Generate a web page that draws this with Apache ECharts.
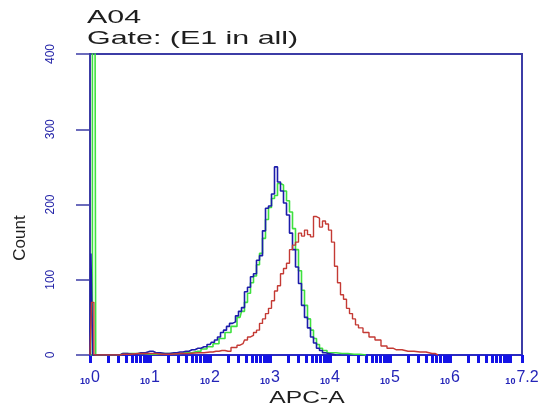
<!DOCTYPE html>
<html>
<head>
<meta charset="utf-8">
<script src="https://cdn.jsdelivr.net/npm/echarts@6/dist/echarts.min.js"></script>
<style>
  html, body { margin: 0; padding: 0; background: #fff; }
  #chart { width: 546px; height: 413px; }
</style>
</head>
<body>
<div id="chart"></div>
<script>
// x values are decades (log10 of APC-A), y values are counts
var blueExp = [0, 0.03, 0.06, 0.5, 0.55, 0.7, 0.85, 1.0, 1.1, 1.25, 1.4, 1.5, 1.6, 1.7, 1.8, 1.9, 2.0, 2.05, 2.1, 2.15, 2.2, 2.25, 2.3, 2.35, 2.4, 2.45, 2.5, 2.55, 2.6, 2.65, 2.7, 2.75, 2.8, 2.85, 2.9, 2.95, 3.0, 3.05, 3.1, 3.15, 3.2, 3.25, 3.3, 3.35, 3.4, 3.45, 3.5, 3.55, 3.6, 3.65, 3.7, 3.75, 3.8, 3.85, 3.9, 3.95, 4.0, 4.1];
var blueCount = [0, 135, 0, 0, 2, 1, 3, 5, 3, 2, 3, 4, 5, 7, 9, 11, 14, 17, 20, 24, 30, 33, 38, 42, 44, 52, 58, 63, 84, 90, 104, 108, 126, 132, 165, 195, 198, 214, 250, 230, 218, 202, 186, 162, 140, 117, 95, 66, 50, 36, 24, 16, 9, 6, 3, 2, 1, 0];

var greenExp = [0, 0.08, 0.11, 0.5, 0.55, 0.8, 1.0, 1.2, 1.4, 1.6, 1.8, 1.9, 2.0, 2.1, 2.2, 2.3, 2.4, 2.5, 2.55, 2.6, 2.65, 2.7, 2.75, 2.8, 2.85, 2.9, 2.95, 3.0, 3.05, 3.1, 3.15, 3.2, 3.25, 3.3, 3.35, 3.4, 3.45, 3.5, 3.55, 3.6, 3.65, 3.7, 3.75, 3.8, 3.85, 3.9, 4.0, 4.2, 4.4, 4.6];
var greenCount = [0, 600, 0, 0, 2, 2, 1, 2, 2, 3, 5, 8, 11, 15, 22, 30, 38, 50, 58, 70, 82, 96, 105, 120, 135, 155, 180, 196, 208, 212, 228, 226, 218, 205, 190, 168, 140, 112, 86, 66, 48, 33, 22, 14, 9, 6, 3, 2, 1, 0];

var redExp = [0, 0.05, 0.08, 0.5, 0.55, 0.8, 1.0, 1.2, 1.5, 1.8, 2.0, 2.1, 2.2, 2.3, 2.4, 2.5, 2.55, 2.6, 2.65, 2.7, 2.75, 2.8, 2.85, 2.9, 2.95, 3.0, 3.05, 3.1, 3.15, 3.2, 3.25, 3.3, 3.35, 3.4, 3.45, 3.5, 3.55, 3.6, 3.65, 3.7, 3.75, 3.8, 3.85, 3.9, 3.95, 4.0, 4.05, 4.1, 4.15, 4.2, 4.25, 4.3, 4.35, 4.4, 4.45, 4.5, 4.6, 4.7, 4.8, 4.9, 5.0, 5.1, 5.3, 5.5, 5.7, 5.8];
var redCount = [0, 70, 0, 0, 1, 2, 2, 1, 2, 3, 4, 5, 6, 5, 10, 13, 15, 20, 24, 26, 30, 33, 42, 48, 55, 62, 72, 85, 92, 108, 115, 122, 140, 146, 150, 162, 158, 166, 160, 157, 184, 182, 170, 178, 174, 166, 150, 118, 96, 80, 74, 62, 55, 48, 40, 36, 30, 24, 20, 12, 9, 7, 5, 4, 2, 0];

var decadeLabels = [0, 1, 2, 3, 4, 5, 6, 7.2];
var countTicks = [0, 100, 200, 300, 400];

// minor ticks at 2..9 inside every decade
var minorTicks = [];
for (var d = 0; d < 7.2; d++) {
    minorTicks.push(d);
    for (var k = 2; k <= 9; k++) {
        minorTicks.push(d + Math.log10(k));
    }
}
minorTicks.push(7.2);

function pairs(xs, ys) {
    var out = [];
    for (var i = 0; i < xs.length; i++) {
        out.push([xs[i], ys[i]]);
    }
    return out;
}

var myChart = echarts.init(document.getElementById('chart'));

var textFont = 'Liberation Sans';

var option = {
    backgroundColor: '#ffffff',
    animation: false,
    // the source picture is stretched sideways, so the flat texts are widened with scaleX
    graphic: [
        {
            type: 'text', x: 87, y: 18, scaleX: 1.6,
            style: { text: 'A04', font: '19px "Liberation Sans"', fill: '#1e1e1e', align: 'left', verticalAlign: 'middle' }
        },
        {
            type: 'text', x: 87, y: 39, scaleX: 1.6,
            style: { text: 'Gate: (E1 in all)', font: '19px "Liberation Sans"', fill: '#1e1e1e', align: 'left', verticalAlign: 'middle' }
        },
        {
            type: 'text', x: 307, y: 398, scaleX: 1.45,
            style: { text: 'APC-A', font: '17px "Liberation Sans"', fill: '#1e1e1e', align: 'center', verticalAlign: 'middle' }
        },
        {
            type: 'text', x: 20, y: 238, rotation: Math.PI / 2,
            style: { text: 'Count', font: '17px "Liberation Sans"', fill: '#1e1e1e', align: 'center', verticalAlign: 'middle' }
        }
    ],
    grid: {
        left: 90,
        top: 54,
        right: 24,
        bottom: 58,
        show: true,
        borderColor: '#3c3ca6',
        borderWidth: 2,
        backgroundColor: '#ffffff'
    },
    xAxis: {
        type: 'value',
        min: 0,
        max: 7.2,
        axisLine: { lineStyle: { color: '#2a2ac0', width: 2 } },
        axisTick: {
            customValues: minorTicks,
            length: 8,
            lineStyle: { color: '#1414e6', width: 3 }
        },
        axisLabel: {
            customValues: decadeLabels,
            margin: 14,
            color: '#2424b8',
            hideOverlap: false,
            formatter: function (v) {
                return '{s|10}{e|' + v + '}';
            },
            rich: {
                s: { fontSize: 9, fontWeight: 'bold', fontFamily: textFont, color: '#2424b8', padding: [8, 1, 0, 0] },
                e: { fontSize: 16, fontFamily: textFont, color: '#2424b8' }
            }
        },
        splitLine: { show: false }
    },
    yAxis: {
        type: 'value',
        min: 0,
        max: 400,
        interval: 100,
        axisLine: { show: true, lineStyle: { color: '#3c3ca6', width: 2 } },
        axisTick: {
            show: true,
            length: 14,
            lineStyle: { color: '#3c3ca6', width: 1.5 }
        },
        axisLabel: {
            rotate: 90,
            margin: 33,
            fontSize: 12,
            fontFamily: textFont,
            color: '#2424a8',
            formatter: function (v) {
                return countTicks.indexOf(v) >= 0 ? String(v) : '';
            }
        },
        splitLine: { show: false }
    },
    series: [
        {
            name: 'green',
            type: 'line',
            step: 'middle',
            symbol: 'none',
            data: pairs(greenExp, greenCount),
            lineStyle: { color: '#3ee03e', width: 1.6 }
        },
        {
            name: 'blue',
            type: 'line',
            step: 'middle',
            symbol: 'none',
            data: pairs(blueExp, blueCount),
            lineStyle: { color: '#1c1caa', width: 1.6 }
        },
        {
            name: 'red',
            type: 'line',
            step: 'middle',
            symbol: 'none',
            data: pairs(redExp, redCount),
            lineStyle: { color: '#c43a34', width: 1.4 }
        }
    ]
};

myChart.setOption(option);
</script>
</body>
</html>
